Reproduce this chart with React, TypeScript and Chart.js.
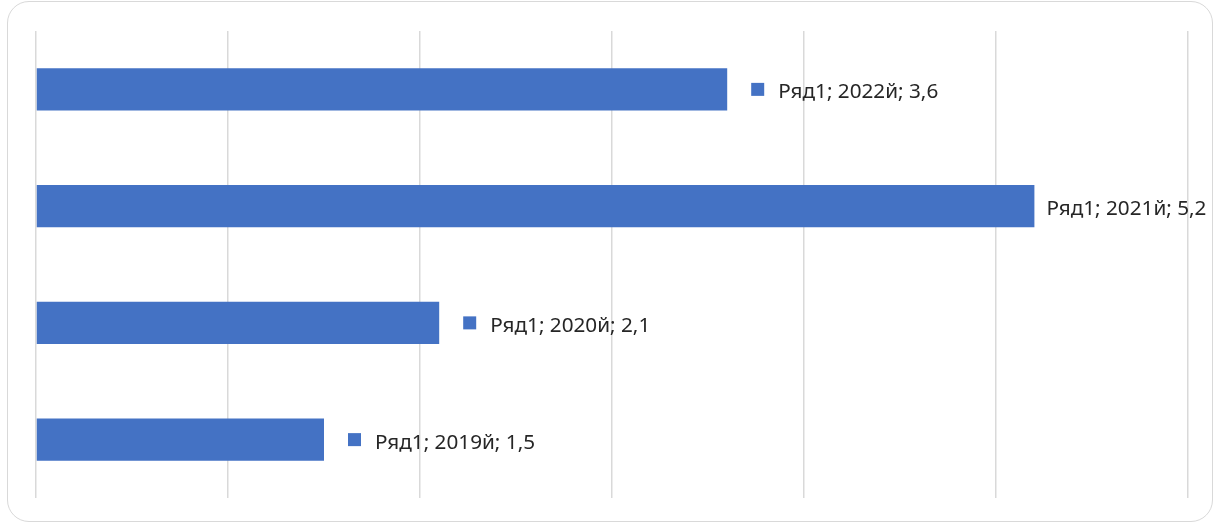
import React, { useEffect, useRef } from "react";
import { Chart, registerables } from "chart.js";

Chart.register(...registerables);

const seriesName = "Ряд1";
const categories = ["2019й", "2020й", "2021й", "2022й"];
const values = [1.5, 2.1, 5.2, 3.6];
const xMin = 0;
const xMax = 6;
const xStep = 1;

const fmt = (v: number) => String(v).replace(".", ",");

const H_SCALE = 1.09;

const labelPlugin = {
  id: "barLabels",
  afterDatasetsDraw(chart: any) {
    const ctx = chart.ctx;
    const meta = chart.getDatasetMeta(0);
    ctx.save();
    ctx.font = "19px 'Noto Sans', sans-serif";
    ctx.textBaseline = "alphabetic";
    meta.data.forEach((el: any, i: number) => {
      const text = `${seriesName}; ${categories[i]}; ${fmt(values[i])}`;
      const w = ctx.measureText(text).width * H_SCALE;
      const x = el.x;
      const y = el.y;
      let tx: number;
      if (x + 51 + w < chart.width - 2) {
        ctx.fillStyle = "#4472c4";
        ctx.fillRect(x + 24, y - 6.5, 13, 13);
        tx = x + 51;
      } else {
        tx = x + 12;
      }
      ctx.save();
      ctx.translate(tx, y + 9);
      ctx.scale(H_SCALE, 1);
      ctx.fillStyle = "#262626";
      ctx.fillText(text, 0, 0);
      ctx.restore();
    });
    ctx.restore();
  },
};

export default function App() {
  const ref = useRef<HTMLCanvasElement>(null);
  useEffect(() => {
    if (!ref.current) return;
    const chart = new Chart(ref.current, {
      type: "bar",
      data: {
        labels: categories,
        datasets: [
          {
            label: seriesName,
            data: values,
            backgroundColor: "#4472c4",
            categoryPercentage: 1,
            barPercentage: 0.36,
          },
        ],
      },
      options: {
        indexAxis: "y",
        animation: false,
        responsive: false,
        maintainAspectRatio: false,
        layout: { padding: { left: 36, right: 32, top: 31, bottom: 26 } },
        plugins: { legend: { display: false }, tooltip: { enabled: false } },
        scales: {
          x: {
            min: xMin,
            max: xMax,
            ticks: { display: false, stepSize: xStep },
            grid: { color: "#d9d9d9", drawTicks: false, lineWidth: 1.5 },
            border: { display: false },
            afterFit: (s: any) => {
              s.height = 0;
            },
          },
          y: {
            reverse: true,
            ticks: { display: false },
            grid: { display: false, drawTicks: false },
            border: { display: false },
            afterFit: (s: any) => {
              s.width = 0;
            },
          },
        },
      },
      plugins: [labelPlugin],
    });
    return () => chart.destroy();
  }, []);
  return (
    <div style={{ position: "fixed", left: 0, top: 0, width: 1220, height: 524, background: "#fff" }}>
      <div
        style={{
          position: "absolute",
          left: 7,
          top: 1,
          width: 1204,
          height: 519,
          border: "1.5px solid #d9d9d9",
          borderRadius: 22,
        }}
      />
      <canvas ref={ref} width={1220} height={524} style={{ position: "absolute", left: 0, top: 0 }} />
    </div>
  );
}
